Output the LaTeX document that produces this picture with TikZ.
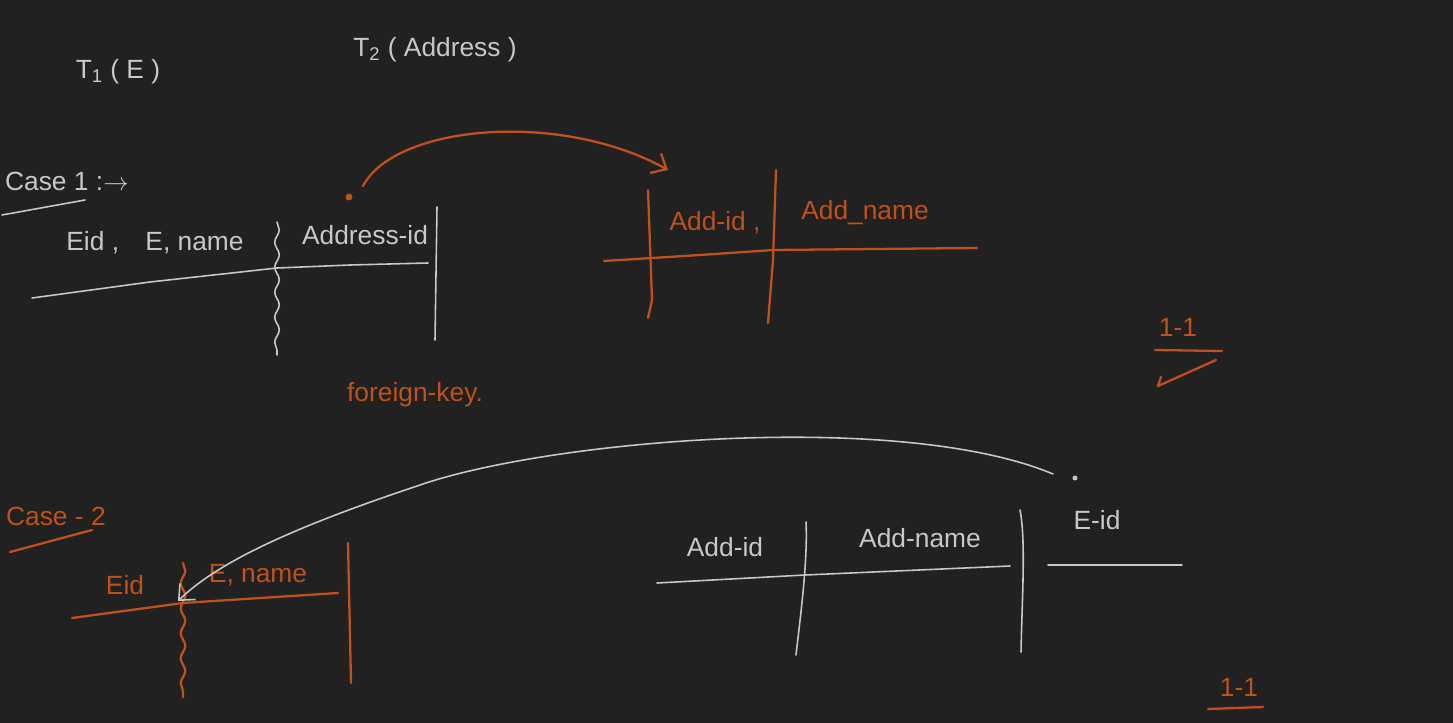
\documentclass[tikz,border=0pt]{standalone}
\usepackage{fontspec}
\setmainfont{Liberation Sans}
\usetikzlibrary{positioning, arrows.meta, decorations.pathmorphing}
\definecolor{board}{HTML}{212121}
\definecolor{ink}{HTML}{C8C8C8}
\definecolor{rust}{HTML}{C0501C}

\begin{document}
\begin{tikzpicture}[
  x=0.02cm, y=-0.02cm,
  hand/.style={font=\fontsize{15}{17}\selectfont, inner sep=1pt},
  wtxt/.style={hand, text=ink},
  otxt/.style={hand, text=rust},
  wline/.style={draw=ink, line width=0.9pt, line cap=round, line join=round},
  oline/.style={draw=rust, line width=1.3pt, line cap=round, line join=round},
  wavy/.style={decorate, decoration={snake, amplitude=1.3pt, segment length=5mm}},
  arr/.style={-{Straight Barb[length=2.5mm, width=4.5mm]}},
]
  \useasboundingbox (0,0) rectangle (1453,723);
  \fill[board] (0,0) rectangle (1453,723);

  % headings
  \node[wtxt] (t1) at (118,72) {T\textsubscript{1} ( E )};
  \node[wtxt] (t2) at (435,50) {T\textsubscript{2} ( Address )};

  % case 1
  \node[wtxt, anchor=west] (case1) at (3,181) {Case 1 :$\rightarrow$};
  \draw[wline] (2,215) -- (85,200);
  \node[wtxt] (ename1) at (155,243) {Eid ,\quad E, name};
  \node[wtxt] (addrid1) at (365,235) {Address-id};
  \draw[wline] (32,298) -- (150,282) -- (277,268) -- (350,265) -- (428,263);
  \draw[wline, wavy] (277,222) -- (277,355);
  \draw[wline] (437,207) -- (435,340);

  \node[otxt] (addid1) at (715,223) {Add-id ,};
  \node[otxt] (addname1) at (865,213) {Add\_name};
  \draw[oline] (604,261) -- (700,255) -- (773,250) -- (977,248);
  \draw[oline] (648,190) -- (652,300) -- (648,318);
  \draw[oline] (776,170) -- (773,260) -- (768,323);

  \coordinate (fkdot) at (349,197);
  \coordinate (fkstart) at (363,186);
  \coordinate (fkend) at (668,170);
  \fill[rust] (fkdot) circle (3.5);
  \draw[oline, arr] (fkstart) .. controls (395,125) and (560,110) .. (fkend);
  \node[otxt] (fk) at (415,395) {foreign-key.};

  \node[otxt] (one1) at (1178,327) {1-1};
  \draw[oline] (1155,350) -- (1222,351);
  \draw[oline] (1161,377) -- (1158,386) -- (1216,360);

  % case 2
  \node[otxt, anchor=west] (case2) at (4,516) {Case - 2};
  \draw[oline] (10,552) -- (92,530);
  \node[otxt] (eid2) at (125,585) {Eid};
  \node[otxt] (ename2) at (258,575) {E, name};
  \draw[oline] (72,618) -- (183,603) -- (338,593);
  \draw[oline, wavy] (183,563) -- (183,697);
  \draw[oline] (348,543) -- (351,683);

  \node[wtxt] (addid2) at (725,547) {Add-id};
  \node[wtxt] (addname2) at (920,538) {Add-name};
  \node[wtxt] (eid3) at (1097,520) {E-id};
  \draw[wline] (657,583) -- (805,575) -- (1010,566);
  \draw[wline] (806,522) .. controls (808,560) and (800,620) .. (796,655);
  \draw[wline] (1020,510) .. controls (1026,540) and (1022,600) .. (1021,652);
  \draw[wline] (1048,565) -- (1182,565);

  \coordinate (eiddot) at (1075,478);
  \coordinate (eidstart) at (1053,474);
  \coordinate (eidtip) at (178,601);
  \fill[ink] (eiddot) circle (2.5);
  \draw[wline, arr] (eidstart) .. controls (900,410) and (550,440) .. (420,485)
    .. controls (300,525) and (220,560) .. (eidtip);

  \node[otxt] (one2) at (1239,687) {1-1};
  \draw[oline] (1208,709) -- (1263,707);
\end{tikzpicture}
\end{document}
